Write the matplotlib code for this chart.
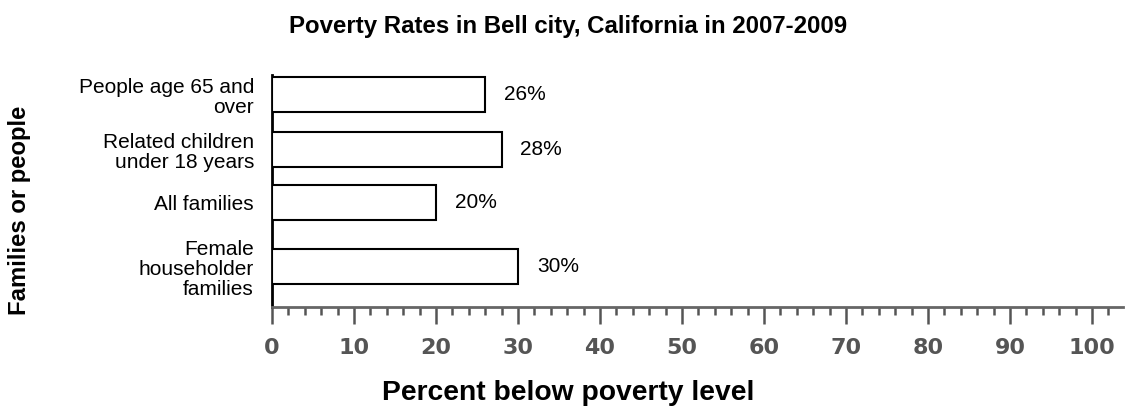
import matplotlib
matplotlib.use("Agg")
import matplotlib.pyplot as plt
from matplotlib.ticker import MultipleLocator

plt.rcParams['font.family'] = ['Liberation Sans', 'DejaVu Sans']

categories = ["People age 65 and\nover",
              "Related children\nunder 18 years",
              "All families",
              "Female\nhouseholder\nfamilies"]
rates = [26, 28, 20, 30]
xticks = [0, 10, 20, 30, 40, 50, 60, 70, 80, 90, 100]

# vertical slots for the bars (last one sits lower for its 3-line label)
ypos = [0, 1, 1.96, 3.13]

W, H = 1135, 408
fig = plt.figure(figsize=(W / 100, H / 100), dpi=100)

x0, x100 = 272, 1092
xmax = 103.8
top, bottom = 75, 307
ax = fig.add_axes([x0 / W, 1 - bottom / H,
                   (x100 - x0) / W * xmax / 100, (bottom - top) / H])

ax.barh(ypos, rates, height=0.64, color="white", edgecolor="black",
        linewidth=1.5, zorder=3)
for y, v in zip(ypos, rates):
    ax.text(v + 2.3, y, f"{v}%", va="center", ha="left", fontsize=15)

ax.set_xlim(0, xmax)
ax.set_ylim(3.864, -0.355)

ax.set_yticks(ypos)
ax.set_yticklabels(categories, fontsize=15, linespacing=1.08)
ax.tick_params(axis="y", length=0, pad=13)

ax.set_xticks(xticks)
ax.xaxis.set_minor_locator(MultipleLocator(2))
ax.tick_params(axis="x", which="major", length=12, width=1.8, color="#555555",
               pad=10, labelsize=16, labelcolor="#555555")
ax.tick_params(axis="x", which="minor", length=6, width=1.8, color="#555555")
for lab in ax.get_xticklabels():
    lab.set_fontweight("bold")
    lab.set_family(['DejaVu Sans'])

for s in ["top", "right"]:
    ax.spines[s].set_visible(False)
ax.spines["left"].set_linewidth(2)
ax.spines["left"].set_color("black")
ax.spines["bottom"].set_linewidth(2)
ax.spines["bottom"].set_color("#666666")

fig.text(568 / W, 1 - 27 / H, "Poverty Rates in Bell city, California in 2007-2009",
         ha="center", va="center", fontsize=17.3, fontweight="bold")
fig.text(568 / W, 1 - 393 / H, "Percent below poverty level",
         ha="center", va="center", fontsize=20.3, fontweight="bold")
fig.text(20 / W, 1 - 210 / H, "Families or people", rotation=90,
         ha="center", va="center", fontsize=17.2, fontweight="bold")

fig.savefig("out.png", dpi=100)
